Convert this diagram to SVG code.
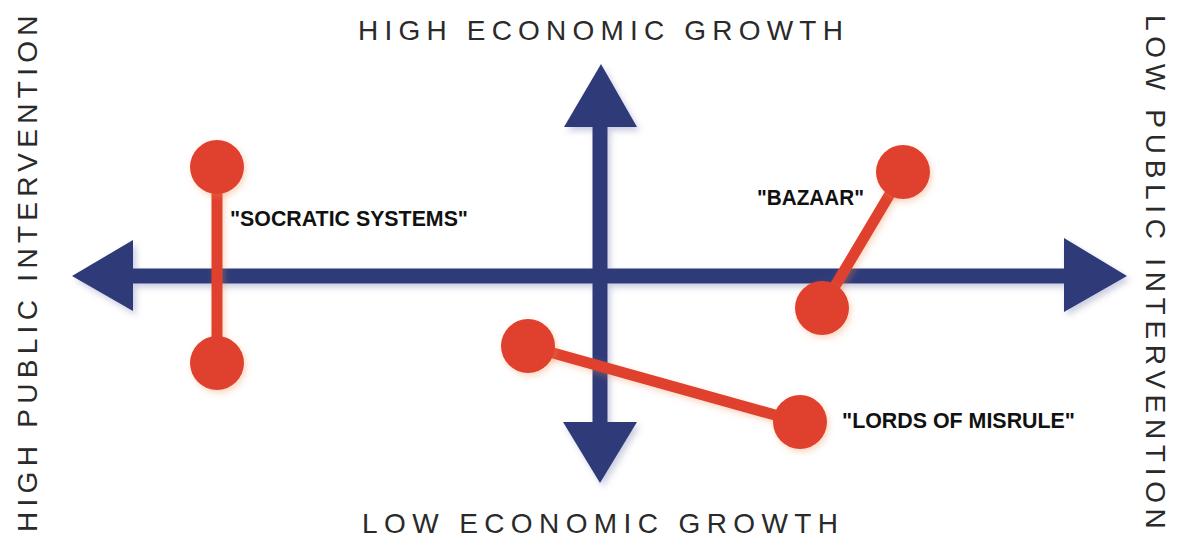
<svg xmlns="http://www.w3.org/2000/svg" width="1192" height="538" viewBox="0 0 1192 538">
  <defs>
    <filter id="bshadow" x="-20%" y="-20%" width="140%" height="140%">
      <feDropShadow dx="3" dy="4" stdDeviation="3" flood-color="#6a72a8" flood-opacity="0.35"/>
    </filter>
    <filter id="rshadow" x="-30%" y="-30%" width="160%" height="160%">
      <feDropShadow dx="2" dy="3" stdDeviation="3" flood-color="#f08a50" flood-opacity="0.35"/>
    </filter>
  </defs>
  <style>
    .axis { fill: #2f3a78; }
    .axisline { stroke: #2f3a78; stroke-width: 15; fill: none; }
    .dot { fill: #e0402f; }
    .link { stroke: #e0402f; stroke-width: 11; fill: none; stroke-linecap: round; }
    .title { font-family: "Liberation Sans", Arial, sans-serif; font-size: 28px; fill: #2a2a2a; }
    .label { font-family: "Liberation Sans", Arial, sans-serif; font-size: 22px; font-weight: bold; fill: #111; }
  </style>
  <rect width="1192" height="538" fill="#ffffff"/>

  <g id="axes" filter="url(#bshadow)">
    <line class="axisline" x1="130" y1="276" x2="1066" y2="276"/>
    <line class="axisline" x1="600" y1="124" x2="600" y2="425"/>
    <polygon class="axis" points="72,276 133,240 133,311"/>
    <polygon class="axis" points="1127,276 1064,238 1064,312"/>
    <polygon class="axis" points="601,64 564,127 637,127"/>
    <polygon class="axis" points="600,483 563,422 637,422"/>
  </g>

  <g id="axis-labels">
    <text class="title" x="358" y="40" letter-spacing="6.2">HIGH ECONOMIC GROWTH</text>
    <text class="title" x="362" y="533" letter-spacing="6.4">LOW ECONOMIC GROWTH</text>
    <text class="title" transform="translate(37,532) rotate(-90)" x="0" y="0" letter-spacing="5.3">HIGH PUBLIC INTERVENTION</text>
    <text class="title" transform="translate(1146,15) rotate(90)" x="0" y="0" letter-spacing="5.7">LOW PUBLIC INTERVENTION</text>
  </g>

  <g id="connectors" filter="url(#rshadow)">
    <line class="link" x1="217" y1="167" x2="217" y2="363"/>
    <line class="link" x1="903" y1="172" x2="822" y2="308"/>
    <line class="link" x1="528" y1="346" x2="800" y2="422"/>
  </g>

  <g id="socratic-systems">
    <g filter="url(#rshadow)">
      <circle class="dot" cx="217" cy="167" r="27"/>
      <circle class="dot" cx="217" cy="363" r="27"/>
    </g>
    <text class="label" x="230" y="226" textLength="238" lengthAdjust="spacingAndGlyphs">"SOCRATIC SYSTEMS"</text>
  </g>

  <g id="bazaar">
    <g filter="url(#rshadow)">
      <circle class="dot" cx="903" cy="172" r="27"/>
      <circle class="dot" cx="822" cy="308" r="27"/>
    </g>
    <text class="label" x="757" y="205" font-size="21" textLength="107" lengthAdjust="spacingAndGlyphs">"BAZAAR"</text>
  </g>

  <g id="lords-of-misrule">
    <g filter="url(#rshadow)">
      <circle class="dot" cx="528" cy="346" r="27"/>
      <circle class="dot" cx="800" cy="422" r="27"/>
    </g>
    <text class="label" x="842" y="428" textLength="233" lengthAdjust="spacingAndGlyphs">"LORDS OF MISRULE"</text>
  </g>
</svg>
